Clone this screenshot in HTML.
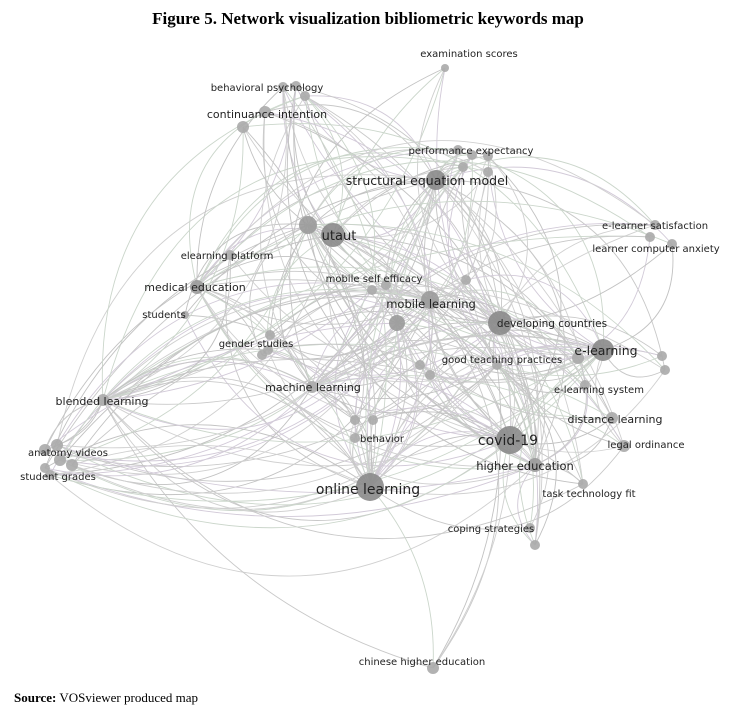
<!DOCTYPE html>
<html><head><meta charset="utf-8"><style>
html,body{margin:0;padding:0;background:#fff;width:737px;height:709px;overflow:hidden}
svg{position:absolute;left:0;top:0}
.t{font-family:"Liberation Serif",serif;font-weight:bold;font-size:17px}
.s{font-family:"Liberation Serif",serif;font-size:13px}
text.l{font-family:"DejaVu Sans","Liberation Sans",sans-serif;fill:#222}
</style></head><body>
<svg id="g" width="737" height="709" xmlns="http://www.w3.org/2000/svg">
<text class="t" x="368" y="24" text-anchor="middle">Figure 5. Network visualization bibliometric keywords map</text>
<text class="s" x="14" y="702"><tspan font-weight="bold">Source:</tspan> VOSviewer produced map</text>
<g id="e" fill="none" stroke-width="0.9"></g>
<g id="n"></g>
<g id="lb"></g>
</svg>
<script>
var N={
ex:[445,68,4],bp1:[283,87,5],bp2:[296,86,5],bp3:[305,96,5],ci1:[265,112,6],ci2:[243,127,6],
pe1:[458,150,5],pe2:[472,155,5],pe3:[488,156,5],pe4:[463,167,5],pe5:[488,172,5],
sem:[436,180,10],ut:[333,235,12],ut2:[308,225,9],ep:[230,255,5],me:[197,287,7],st:[185,315,4],
ms1:[372,290,5],ms2:[386,285,5],ml:[430,300,9],ml2:[397,323,8],ml3:[466,280,5],
dc:[500,323,12],es1:[655,225,5],es2:[650,237,5],lca:[672,244,5],el:[603,350,11],el2:[578,358,6],el3:[662,356,5],el4:[665,370,5],
gs1:[270,335,5],gs2:[268,350,5],gs3:[262,355,5],gt1:[420,365,5],gt2:[430,375,5],gt3:[497,365,5],
els:[585,385,5],mlr:[312,387,6],bl:[103,400,6],dl:[612,418,6],bh:[355,438,5],bh2:[373,420,5],bh3:[355,420,5],
cv:[510,440,14],lo:[624,446,6],av1:[45,450,6],av2:[57,445,6],av3:[60,460,6],av4:[72,465,6],
he:[535,465,7],sg1:[45,468,5],sg2:[50,475,5],ol:[370,487,14],ttf:[583,484,5],cs1:[530,528,5],cs2:[535,545,5],che:[433,668,6]};
var L=[["examination scores",469,57,10],["behavioral psychology",267,91,10],["continuance intention",267,118,11],
["performance expectancy",471,154,10],["structural equation model",427,185,12.5],["utaut",339,240,13],
["elearning platform",227,259,10],["medical education",195,291,11],["students",164,318,10],["mobile self efficacy",374,282,10],
["mobile learning",431,308,11.5],["developing countries",552,327,10.5],["e-learner satisfaction",655,229,10],
["learner computer anxiety",656,252,10],["e-learning",606,355,12.5],["gender studies",256,347,10],
["good teaching practices",502,363,10],["e-learning system",599,393,10],["machine learning",313,391,11],
["blended learning",102,405,11],["distance learning",615,423,11],["behavior",382,442,10],["covid-19",508,445,14],
["legal ordinance",646,448,10],["anatomy videos",68,456,10],["higher education",525,470,11.5],["student grades",58,480,10],
["online learning",368,494,14],["task technology fit",589,497,10],["coping strategies",491,532,10],["chinese higher education",422,665,10]];
var k=Object.keys(N),eg=document.getElementById('e'),ng=document.getElementById('n'),lg=document.getElementById('lb');
var big=["sem","ut","ml","dc","el","cv","ol","he","mlr","bl","me","gt3","ml2","ut2"];
var seed=7;function r(){seed=(seed*9301+49297)%233280;return seed/233280;}
var cols=["#c8c8c8","#d0d0d0","#d2cad8","#cbd6cb","#c2c2c2"];
function edge(a,b){var A=N[a],B=N[b];if(!A||!B||a==b)return;var mx=(A[0]+B[0])/2,my=(A[1]+B[1])/2,dx=B[0]-A[0],dy=B[1]-A[1];
var s=(r()<0.5?-1:1)*(0.15+r()*0.35);var p=document.createElementNS("http://www.w3.org/2000/svg","path");
p.setAttribute("d","M"+A[0]+","+A[1]+" Q"+(mx-dy*s)+","+(my+dx*s)+" "+B[0]+","+B[1]);p.setAttribute("stroke",cols[Math.floor(r()*5)]);eg.appendChild(p);}
big.forEach(function(a){k.forEach(function(b){if(r()<0.33)edge(a,b);});});
k.forEach(function(a){edge(a,big[Math.floor(r()*big.length)]);});
k.forEach(function(a){var c=N[a];var e=document.createElementNS("http://www.w3.org/2000/svg","circle");
e.setAttribute("cx",c[0]);e.setAttribute("cy",c[1]);e.setAttribute("r",c[2]);e.setAttribute("fill",c[2]>9?"#8a8a8a":(c[2]>6?"#9a9a9a":"#aaa"));e.setAttribute("opacity","0.9");ng.appendChild(e);});
L.forEach(function(l){var t=document.createElementNS("http://www.w3.org/2000/svg","text");t.setAttribute("class","l");
t.setAttribute("x",l[1]);t.setAttribute("y",l[2]);t.setAttribute("font-size",l[3]);t.setAttribute("text-anchor","middle");t.textContent=l[0];lg.appendChild(t);});
</script>
</body></html>
